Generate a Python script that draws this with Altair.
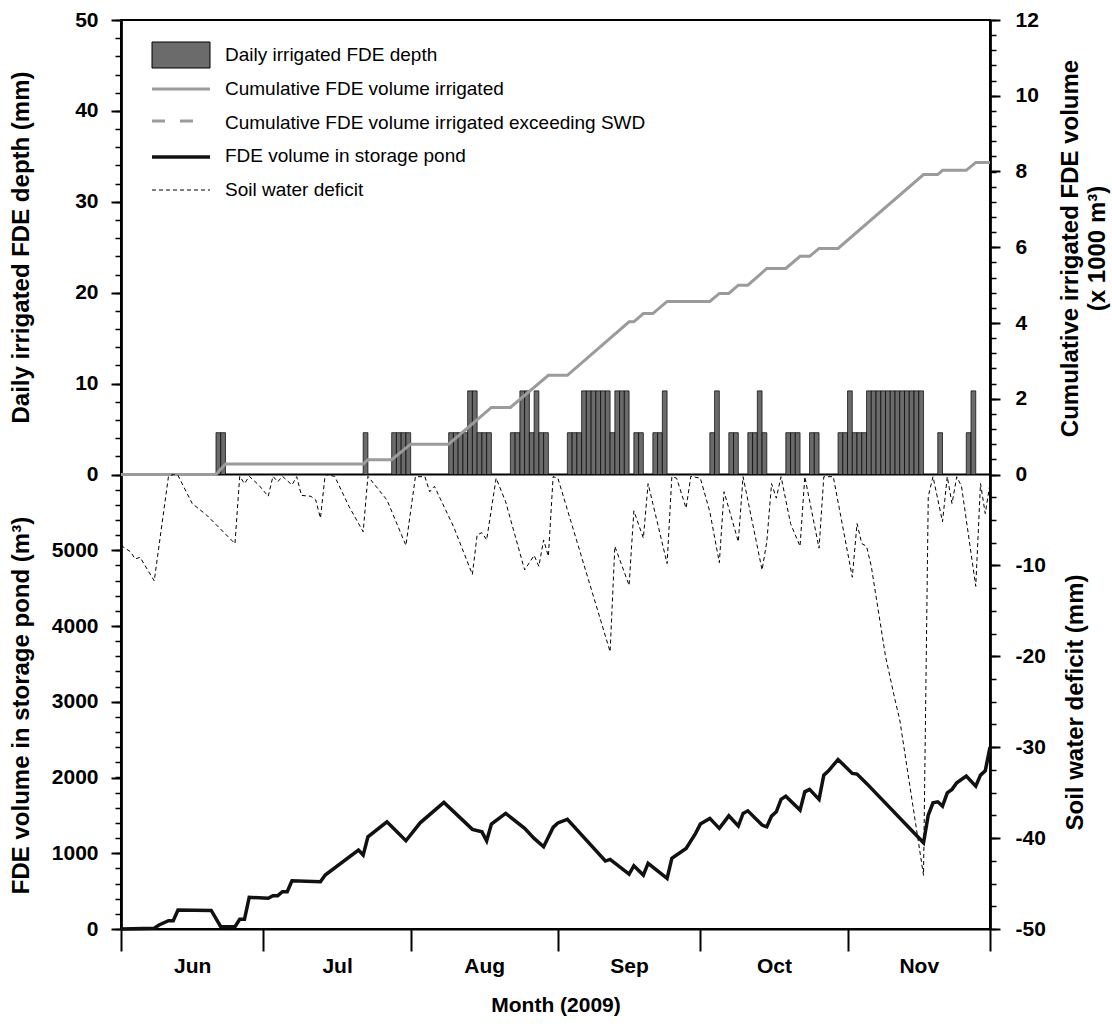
import altair as alt
import pandas as pd

SEASON_START = pd.Timestamp("2009-06-01")
FONT = "Liberation Sans"

# Daily irrigated FDE depth (mm)
irr_dates = [
    "06-21", "06-22", "07-22", "07-28", "07-29", "07-30", "07-31",
    "08-09", "08-10", "08-11", "08-12", "08-13", "08-14", "08-15", "08-16", "08-17",
    "08-22", "08-23", "08-24", "08-25", "08-26", "08-27", "08-28", "08-29",
    "09-03", "09-04", "09-05", "09-06", "09-07", "09-08", "09-09", "09-10", "09-11",
    "09-12", "09-13", "09-14", "09-15", "09-17", "09-18", "09-21", "09-22", "09-23",
    "10-03", "10-04", "10-07", "10-08", "10-11", "10-12", "10-13", "10-14",
    "10-19", "10-20", "10-21", "10-24", "10-25", "10-30", "10-31",
    "11-01", "11-02", "11-03", "11-04", "11-05", "11-06", "11-07", "11-08",
    "11-09", "11-10", "11-11", "11-12", "11-13", "11-14", "11-15", "11-16",
    "11-20", "11-26", "11-27",
]
irr_depth = [
    4.6, 4.6, 4.6, 4.6, 4.6, 4.6, 4.6,
    4.6, 4.6, 4.6, 4.6, 9.2, 9.2, 4.6, 4.6, 4.6,
    4.6, 4.6, 9.2, 9.2, 4.6, 9.2, 4.6, 4.6,
    4.6, 4.6, 4.6, 9.2, 9.2, 9.2, 9.2, 9.2, 9.2,
    4.6, 9.2, 9.2, 9.2, 4.6, 4.6, 4.6, 4.6, 9.2,
    4.6, 9.2, 4.6, 4.6, 4.6, 4.6, 9.2, 4.6,
    4.6, 4.6, 4.6, 4.6, 4.6, 4.6, 4.6,
    9.2, 4.6, 4.6, 4.6, 9.2, 9.2, 9.2, 9.2,
    9.2, 9.2, 9.2, 9.2, 9.2, 9.2, 9.2, 9.2,
    4.6, 4.6, 9.2,
]

# Cumulative FDE volume irrigated (x 1000 m3)
cum_dates = [
    "06-01", "06-21", "06-23", "07-22", "07-23", "07-28", "08-01", "08-09",
    "08-18", "08-22", "08-30", "09-03", "09-16", "09-17", "09-19", "09-21",
    "09-24", "10-03", "10-05", "10-07", "10-09", "10-11", "10-15", "10-19",
    "10-22", "10-24", "10-26", "10-30", "11-17", "11-20", "11-21", "11-26",
    "11-28", "12-01",
]
cum_volume = [
    0.0, 0.0, 0.28, 0.28, 0.39, 0.39, 0.80, 0.80,
    1.77, 1.77, 2.62, 2.62, 4.03, 4.03, 4.25, 4.25,
    4.57, 4.57, 4.78, 4.78, 5.00, 5.00, 5.44, 5.44,
    5.76, 5.76, 5.97, 5.97, 7.92, 7.92, 8.03, 8.03,
    8.24, 8.24,
]

# FDE volume in storage pond (m3)
pond_dates = [
    "06-01", "06-08", "06-09", "06-11", "06-12", "06-13", "06-20", "06-22",
    "06-25", "06-26", "06-27", "06-28", "07-02", "07-03", "07-04", "07-05",
    "07-06", "07-07", "07-13", "07-14", "07-21", "07-22", "07-23", "07-27",
    "07-31", "08-03", "08-08", "08-14", "08-16", "08-17", "08-18", "08-21",
    "08-25", "08-27", "08-29", "08-31", "09-01", "09-03", "09-11", "09-12",
    "09-16", "09-17", "09-19", "09-20", "09-24", "09-25", "09-28", "09-30",
    "10-01", "10-03", "10-05", "10-07", "10-09", "10-10", "10-11", "10-14",
    "10-15", "10-16", "10-17", "10-18", "10-19", "10-22", "10-23", "10-24",
    "10-26", "10-27", "10-28", "10-30", "11-02", "11-03", "11-05", "11-17",
    "11-18", "11-19", "11-20", "11-21", "11-22", "11-23", "11-24", "11-26",
    "11-28", "11-29", "11-30", "12-01",
]
pond_volume = [
    0, 10, 53, 110, 110, 250, 245, 30,
    30, 128, 128, 418, 405, 440, 440, 492,
    492, 637, 624, 712, 1042, 976, 1217, 1415,
    1165, 1402, 1671, 1315, 1283, 1165, 1385, 1526,
    1328, 1196, 1086, 1341, 1400, 1447, 897, 919,
    725, 835, 712, 866, 669, 932, 1064, 1262,
    1385, 1460, 1328, 1494, 1359, 1526, 1560, 1372,
    1349, 1490, 1547, 1711, 1754, 1570, 1811, 1843,
    1711, 2031, 2088, 2238, 2054, 2045, 1922, 1138,
    1504, 1666, 1679, 1622, 1798, 1843, 1930, 2018,
    1886, 2031, 2088, 2400,
]

# Soil water deficit (mm)
swd_dates = [
    "06-01", "06-03", "06-04", "06-05", "06-08", "06-11", "06-12", "06-13",
    "06-16", "06-19", "06-25", "06-26", "06-27", "06-28", "06-30", "07-02",
    "07-03", "07-04", "07-05", "07-07", "07-08", "07-09", "07-11", "07-12",
    "07-13", "07-14", "07-16", "07-19", "07-22", "07-23", "07-27", "07-31",
    "08-02", "08-04", "08-05", "08-06", "08-10", "08-14", "08-15", "08-16",
    "08-17", "08-19", "08-21", "08-25", "08-27", "08-28", "08-29", "08-30",
    "08-31", "09-01", "09-12", "09-13", "09-16", "09-17", "09-19", "09-20",
    "09-24", "09-25", "09-26", "09-28", "09-29", "10-01", "10-03", "10-05",
    "10-06", "10-09", "10-10", "10-14", "10-15", "10-16", "10-17", "10-18",
    "10-20", "10-22", "10-23", "10-26", "10-27", "10-29", "11-02", "11-03",
    "11-04", "11-05", "11-06", "11-09", "11-11", "11-12", "11-17", "11-18",
    "11-19", "11-21", "11-22", "11-23", "11-24", "11-25", "11-28", "11-29",
    "11-30", "12-01",
]
swd_mm = [
    -7.8, -8.5, -9.3, -9.1, -11.7, -0.2, 0.0, -0.1,
    -3.2, -4.45, -7.6, -0.2, -1.0, -0.2, -1.15, -2.4,
    -0.2, -0.8, -0.2, -1.15, -0.24, -2.3, -2.4, -2.8,
    -4.8, 0.0, -0.2, -3.5, -6.3, -0.2, -2.8, -7.8,
    -0.24, -0.24, -1.9, -1.3, -5.7, -11.0, -6.65, -6.4,
    -7.2, -0.4, -3.0, -10.5, -8.9, -10.1, -7.2, -9.0,
    -0.24, -0.4, -19.5, -7.9, -12.2, -4.0, -7.0, -1.0,
    -9.8, -0.24, -0.4, -3.7, -0.2, -0.4, -4.1, -9.7,
    -1.9, -7.4, -0.24, -10.5, -7.4, -1.0, -2.6, -0.24,
    -5.4, -7.9, -0.24, -8.1, -0.24, -0.24, -11.3, -5.4,
    -7.6, -7.9, -10.1, -20.0, -24.8, -27.0, -44.1, -2.4,
    -0.24, -5.2, -0.24, -3.2, -0.24, -1.3, -12.3, -1.0,
    -4.3, -1.0,
]

legend_labels = [
    "Daily irrigated FDE depth",
    "Cumulative FDE volume irrigated",
    "Cumulative FDE volume irrigated exceeding SWD",
    "FDE volume in storage pond",
    "Soil water deficit",
]


def season_day(mmdd_list):
    return [(pd.Timestamp(f"2009-{d}") - SEASON_START).days for d in mmdd_list]


irr_df = pd.DataFrame({"day": season_day(irr_dates), "depth": irr_depth})
irr_df["day_end"] = irr_df["day"] + 1
cum_df = pd.DataFrame({"day": season_day(cum_dates), "volume": cum_volume})
pond_df = pd.DataFrame({"day": season_day(pond_dates), "volume": pond_volume})
swd_df = pd.DataFrame({"day": season_day(swd_dates), "swd": swd_mm})

# Month axis: ticks at month boundaries, names centred inside each month
month_starts = pd.date_range("2009-06-01", "2009-12-01", freq="MS")
bounds = [(d - SEASON_START).days for d in month_starts]
mids = [(a + b) / 2 for a, b in zip(bounds[:-1], bounds[1:])]
names = [d.strftime("%b") for d in month_starts[:-1]]
label_expr = " : ".join(f"datum.value == {m} ? '{n}'" for m, n in zip(mids, names)) + " : ''"
tick_test = f"indexof({bounds}, datum.value) >= 0"

W, H = 869, 909
YT = 24  # y-axis title size
LBL = dict(labelFontSize=21, labelFontWeight="bold", labelFont=FONT, labelColor="black")
TTL = dict(titleFontWeight="bold", titleFont=FONT, titleColor="black")
DOM = dict(domainColor="black", domainWidth=2, tickColor="black", grid=False)
PLAIN = "datum.value + ''"

x_axis = alt.Axis(
    values=bounds + mids, labelExpr=label_expr,
    tickOpacity={"condition": {"test": tick_test, "value": 1}, "value": 0},
    tickSize=22, tickWidth=2, labelPadding=4, labelOverlap=False, labelFlush=False,
    title="Month (2009)", titleFontSize=21, titlePadding=18, **LBL, **TTL, **DOM,
)
x_scale = alt.Scale(domain=[0, 183], nice=False, zero=False)


def xenc(field="day"):
    return alt.X(f"{field}:Q", scale=x_scale, axis=x_axis)


mm_scale = alt.Scale(domain=[-50, 50], nice=False, zero=False)
cum_scale = alt.Scale(domain=[-12, 12], nice=False, zero=False)
pond_scale = alt.Scale(domain=[0, 12000], nice=False, zero=False)

# minor ticks, expressed on the [-50, 50] mm scale shared by both halves
left_minor = [v * 2 for v in range(0, 26)] + [v / 120 - 50 for v in range(0, 6001, 200)]
right_minor = [v * 0.4 / 12 * 50 for v in range(0, 31)] + [-50 + 2.5 * k for k in range(0, 21)]

minor_common = dict(labels=False, tickSize=6, tickWidth=1.5, title=None, **DOM)

zero_line = alt.Chart(pd.DataFrame({"k": [0]})).mark_rule(color="black", strokeWidth=2).encode(
    y=alt.YDatum(0, scale=mm_scale, axis=alt.Axis(orient="left", values=left_minor, **minor_common))
)
right_minor_layer = alt.Chart(pd.DataFrame({"k": [0]})).mark_rule(opacity=0).encode(
    y=alt.YDatum(0, scale=mm_scale, axis=alt.Axis(orient="right", values=right_minor, **minor_common))
)

bars = alt.Chart(irr_df).mark_bar(color="#6b6b6b", stroke="black", strokeWidth=0.7).encode(
    x=xenc(), x2="day_end:Q",
    y=alt.Y("depth:Q", scale=mm_scale, axis=alt.Axis(
        orient="left", values=[0, 10, 20, 30, 40, 50], labelExpr=PLAIN,
        tickSize=10, tickWidth=2, labelPadding=13,
        title="Daily irrigated FDE depth (mm)", titleFontSize=YT, titleAngle=270,
        titleX=-100, titleY=227, titleAlign="center", titleBaseline="middle",
        **LBL, **TTL, **DOM)),
    y2=alt.Y2Datum(0),
)

cum_line = alt.Chart(cum_df).mark_line(color="#9b9b9b", strokeWidth=3).encode(
    x=xenc(),
    y=alt.Y("volume:Q", scale=cum_scale, axis=alt.Axis(
        orient="right", values=[0, 2, 4, 6, 8, 10, 12], labelExpr=PLAIN,
        tickSize=10, tickWidth=2, labelPadding=15,
        title=["Cumulative irrigated FDE volume", "(x 1000 m³)"], titleFontSize=YT,
        titleAngle=270, titleX=80, titleY=228, titleLineHeight=27,
        titleAlign="center", titleBaseline="middle", **LBL, **TTL, **DOM)),
)

swd_line = alt.Chart(swd_df).mark_line(color="black", strokeWidth=1, strokeDash=[4, 3]).encode(
    x=xenc(),
    y=alt.Y("swd:Q", scale=mm_scale, axis=alt.Axis(
        orient="right", values=[-50, -40, -30, -20, -10], labelExpr=PLAIN,
        tickSize=10, tickWidth=2, labelPadding=15,
        title="Soil water deficit (mm)", titleFontSize=YT, titleAngle=270,
        titleX=85, titleY=682, titleAlign="center", titleBaseline="middle",
        **LBL, **TTL, **DOM)),
)

pond_line = alt.Chart(pond_df).mark_line(color="#111111", strokeWidth=3.5).encode(
    x=xenc(),
    y=alt.Y("volume:Q", scale=pond_scale, axis=alt.Axis(
        orient="left", values=[0, 1000, 2000, 3000, 4000, 5000], labelExpr=PLAIN,
        tickSize=10, tickWidth=2, labelPadding=13,
        title="FDE volume in storage pond (m³)", titleFontSize=YT, titleAngle=270,
        titleX=-100, titleY=685, titleAlign="center", titleBaseline="middle",
        **LBL, **TTL, **DOM)),
)

# Legend drawn inside the upper panel
one = pd.DataFrame({"k": [0]})
lg_bar = alt.Chart(one).mark_rect(color="#6b6b6b", stroke="black", strokeWidth=1).encode(
    x=alt.value(31), x2=alt.value(89), y=alt.value(22), y2=alt.value(48))
lg_cum = alt.Chart(one).mark_rule(color="#9b9b9b", strokeWidth=3).encode(
    x=alt.value(31), x2=alt.value(89), y=alt.value(69))
lg_exc = alt.Chart(one).mark_rule(color="#9b9b9b", strokeWidth=3, strokeDash=[13, 15]).encode(
    x=alt.value(31), x2=alt.value(74), y=alt.value(101))
lg_pond = alt.Chart(one).mark_rule(color="#111111", strokeWidth=3.5).encode(
    x=alt.value(31), x2=alt.value(89), y=alt.value(137))
lg_swd = alt.Chart(one).mark_rule(color="black", strokeWidth=1, strokeDash=[4, 3]).encode(
    x=alt.value(31), x2=alt.value(89), y=alt.value(170))
lg_text = alt.Chart(pd.DataFrame({"label": legend_labels})).mark_text(
    align="left", baseline="middle", fontSize=19, font=FONT, color="black"
).encode(
    x=alt.value(104),
    y=alt.Y("label:N", sort=legend_labels, axis=None,
            scale=alt.Scale(type="point", range=[35, 170], padding=0)),
    text="label:N",
)

chart = alt.layer(
    zero_line, bars, cum_line, swd_line, pond_line, right_minor_layer,
    lg_bar, lg_cum, lg_exc, lg_pond, lg_swd, lg_text,
).resolve_scale(y="independent").properties(
    width=W, height=H,
    autosize=alt.AutoSizeParams(type="none"),
    padding={"left": 121, "top": 20, "right": 122, "bottom": 99},
).configure(font=FONT).configure_view(stroke="black", strokeWidth=2)

chart.save("out.html", embed_options={"renderer": "svg", "actions": False})
